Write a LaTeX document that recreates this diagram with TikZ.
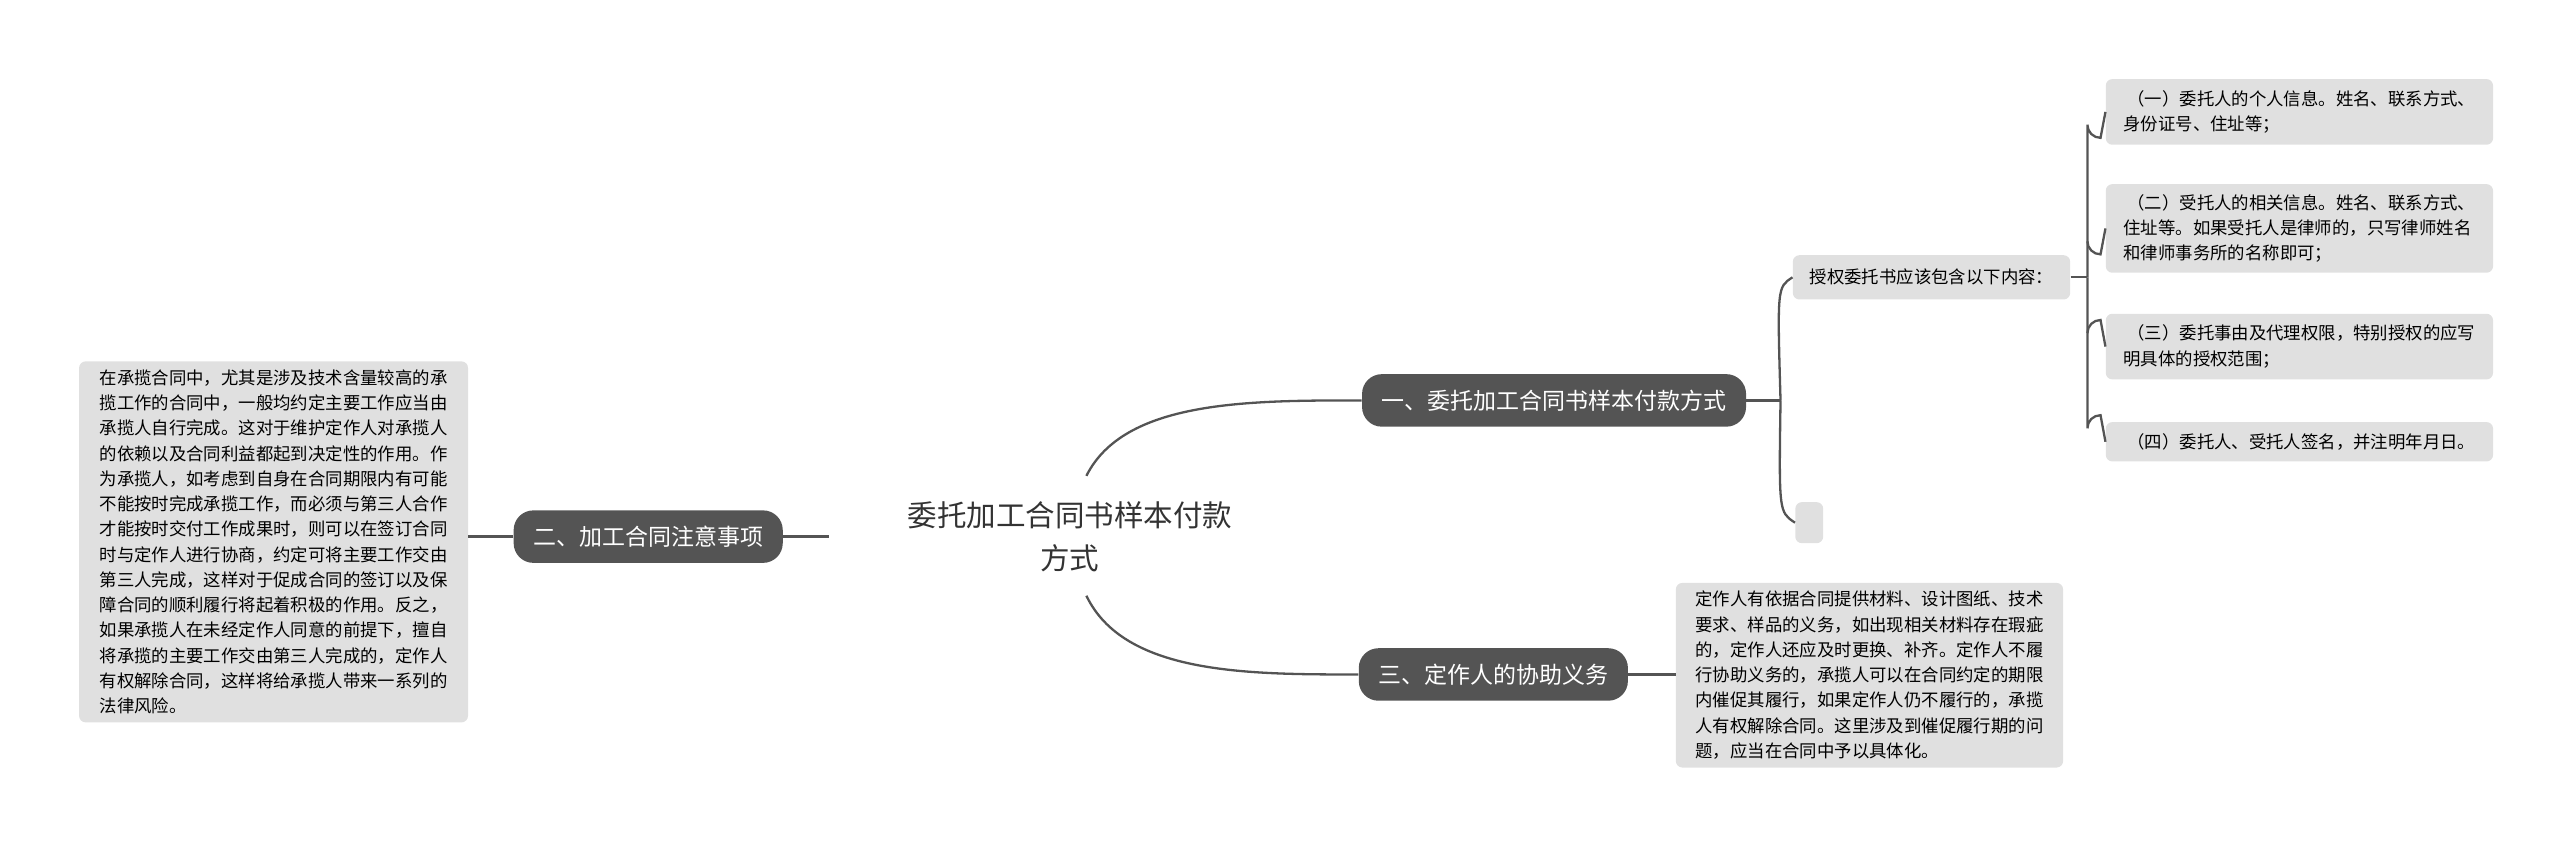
\documentclass[tikz,border=0pt]{standalone}
\usepackage{fontspec}
\setmainfont{Noto Sans CJK SC}
\begin{document}
\begin{tikzpicture}[x=1pt,y=-1pt,
  topic/.style={fill=black!67,text=white,rounded corners=12pt,minimum height=32pt,font=\fontsize{14}{16}\selectfont,inner xsep=12pt},
  leaf/.style={fill=black!12,rounded corners=4pt,align=left,font=\fontsize{10.6}{15.4}\selectfont,inner sep=5pt,anchor=north west},
  conn/.style={draw=black!67,line width=1.4pt}]
\useasboundingbox (0,0) rectangle (1560,514);
\node (c) at (652,327) [align=center,font=\fontsize{18}{26}\selectfont,text=black!80] {委托加工合同书样本付款\\方式};
\node[topic] (a) at (947,244) {一、委托加工合同书样本付款方式};
\node[topic] (b) at (395,327) {二、加工合同注意事项};
\node[topic] (d) at (910,411) {三、定作人的协助义务};
\node[leaf,minimum width=237pt,minimum height=214pt] (bl) at (48,220) {在承揽合同中，尤其是涉及技术含量较高的承\\揽工作的合同中，一般均约定主要工作应当由\\承揽人自行完成。这对于维护定作人对承揽人\\的依赖以及合同利益都起到决定性的作用。作\\为承揽人，如考虑到自身在合同期限内有可能\\不能按时完成承揽工作，而必须与第三人合作\\才能按时交付工作成果时，则可以在签订合同\\时与定作人进行协商，约定可将主要工作交由\\第三人完成，这样对于促成合同的签订以及保\\障合同的顺利履行将起着积极的作用。反之，\\如果承揽人在未经定作人同意的前提下，擅自\\将承揽的主要工作交由第三人完成的，定作人\\有权解除合同，这样将给承揽人带来一系列的\\法律风险。};
\node[leaf,minimum width=236pt,minimum height=112pt] (dl) at (1021,355) {定作人有依据合同提供材料、设计图纸、技术\\要求、样品的义务，如出现相关材料存在瑕疵\\的，定作人还应及时更换、补齐。定作人不履\\行协助义务的，承揽人可以在合同约定的期限\\内催促其履行，如果定作人仍不履行的，承揽\\人有权解除合同。这里涉及到催促履行期的问\\题，应当在合同中予以具体化。};
\node[leaf,anchor=center,minimum width=169pt,minimum height=27pt] (s) at (1177,169) {授权委托书应该包含以下内容：};
\node[leaf,anchor=center,minimum width=17pt,minimum height=25pt,inner sep=0pt] (e) at (1102.5,318.5) {};
\node[leaf,minimum width=236pt,minimum height=40pt] (i1) at (1283,48) {\ （一）委托人的个人信息。姓名、联系方式、\\身份证号、住址等；};
\node[leaf,minimum width=236pt,minimum height=54pt] (i2) at (1283,112) {\ （二）受托人的相关信息。姓名、联系方式、\\住址等。如果受托人是律师的，只写律师姓名\\和律师事务所的名称即可；};
\node[leaf,minimum width=236pt,minimum height=40pt] (i3) at (1283,191) {\ （三）委托事由及代理权限，特别授权的应写\\明具体的授权范围；};
\node[leaf,minimum width=236pt,minimum height=24pt] (i4) at (1283,257) {\ （四）委托人、受托人签名，并注明年月日。};
\coordinate (cr1) at (662,290);
\coordinate (cr2) at (662,363);
\coordinate (cl) at (505,327);
\draw[conn] (cr1) .. controls (685,244) and (760,244) .. (a.west);
\draw[conn] (cr2) .. controls (685,411) and (760,411) .. (d.west);
\draw[conn] (cl) -- (b.east);
\draw[conn] (b.west) -- (bl.east |- b.west);
\draw[conn] (d.east) -- (dl.west |- d.east);
\draw[conn] (a.east) -- (1085,244);
\draw[conn] (1085,244) .. controls (1083,175) .. (s.west);
\draw[conn] (1085,244) .. controls (1084,312) .. (e.west);
\draw[conn] (s.east) -- (1272,169);
\draw[conn] (1272,169) -- (1272,76) arc[start angle=180,end angle=90,radius=8] -- (i1.west);
\draw[conn] (1272,169) -- (1272,261) arc[start angle=180,end angle=270,radius=8] -- (i4.west);
\draw[conn] (1272,147) arc[start angle=180,end angle=90,radius=8] -- (i2.west);
\draw[conn] (1272,203) arc[start angle=180,end angle=270,radius=8] -- (i3.west);
\end{tikzpicture}
\end{document}
